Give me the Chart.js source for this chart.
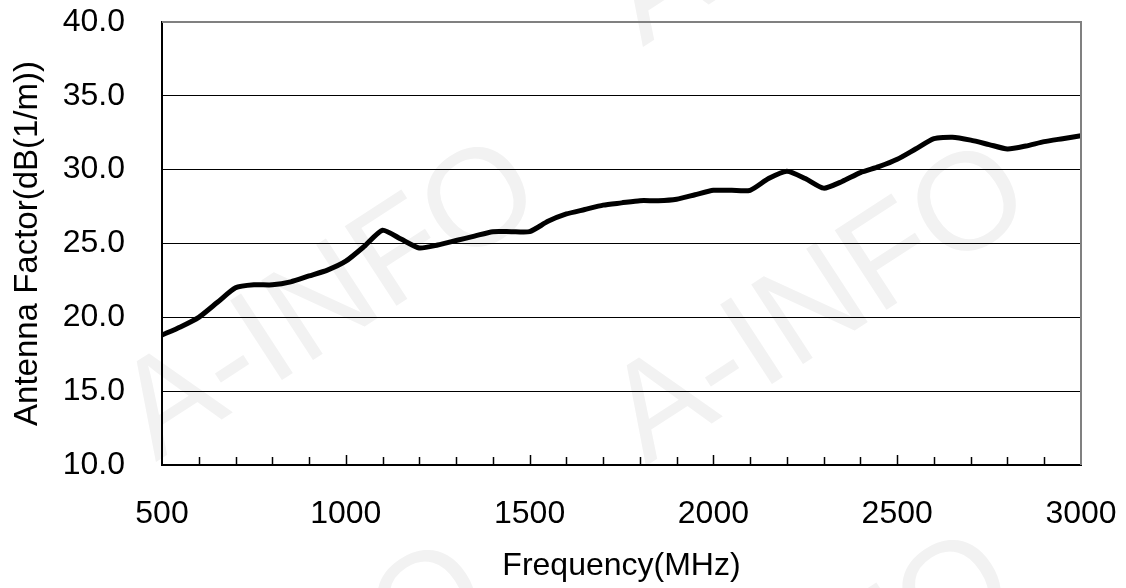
<!DOCTYPE html>
<html>
<head>
<meta charset="utf-8">
<script src="https://cdn.jsdelivr.net/npm/chart.js@4.4.1/dist/chart.umd.min.js"></script>
<style>
  html, body { margin: 0; padding: 0; background: #ffffff; }
  #wrap { width: 1126px; height: 588px; }
</style>
</head>
<body>
<div id="wrap"><canvas id="afChart"></canvas></div>
<script>
// frequency points (MHz) and antenna factor
const freqMHz = [500, 550, 600, 650, 700, 750, 800, 850, 900, 950,
  1000, 1050, 1100, 1150, 1200, 1250, 1300, 1350, 1400, 1450,
  1500, 1550, 1600, 1650, 1700, 1750, 1800, 1850, 1900, 1950,
  2000, 2050, 2100, 2150, 2200, 2250, 2300, 2350, 2400, 2450,
  2500, 2550, 2600, 2650, 2700, 2750, 2800, 2850, 2900, 2950, 3000]
const antennaFactor = [18.8, 19.35, 20.0, 21.0, 22.0, 22.2, 22.2, 22.4, 22.8, 23.2,
  23.8, 24.8, 25.9, 25.3, 24.7, 24.9, 25.2, 25.5, 25.8, 25.8,
  25.8, 26.5, 27.0, 27.3, 27.6, 27.75, 27.9, 27.9, 28.0, 28.3,
  28.6, 28.6, 28.6, 29.4, 29.9, 29.4, 28.75, 29.2, 29.8, 30.2,
  30.7, 31.4, 32.1, 32.2, 32.0, 31.7, 31.4, 31.6, 31.9, 32.1, 32.3]

const xRange = [500, 3000]
const yRange = [10, 40]
const xMajorStep = 500
const xMinorStep = 100
const yStep = 5

const font = '"Liberation Sans", Arial, sans-serif'

const points = freqMHz.map((f, i) => ({ x: f, y: antennaFactor[i] }))

// drop the label overflow padding so the plot box sits where we want it
const noPad = s => {
  s.paddingTop = 0
  s.paddingBottom = 0
  s.paddingLeft = 0
  s.paddingRight = 0
}

// faint tiled watermark behind the chart
const watermark = {
  id: 'watermark',
  beforeDraw(chart) {
    const c = chart.ctx
    c.save()
    c.fillStyle = '#ffffff'
    c.fillRect(0, 0, chart.width, chart.height)
    c.fillStyle = '#f2f2f2'
    c.font = '138px ' + font
    c.textAlign = 'center'
    c.textBaseline = 'middle'
    const spots = [[331, 303], [821, 307], [818, -112], [281, 706], [806, 696]]
    spots.forEach(p => {
      c.save()
      c.translate(p[0], p[1])
      c.rotate(-33 * Math.PI / 180)
      c.fillText('A-INFO', 0, 0)
      c.restore()
    })
    c.restore()
  }
}

// frame on top/right and small inward tick marks on the x axis
const frame = {
  id: 'frame',
  afterDatasetsDraw(chart) {
    const c = chart.ctx
    const a = chart.chartArea
    const xs = chart.scales.x
    c.save()
    c.strokeStyle = '#808080'
    c.lineWidth = 2
    c.beginPath()
    c.moveTo(a.left, a.top)
    c.lineTo(a.right, a.top)
    c.lineTo(a.right, a.bottom)
    c.stroke()
    c.strokeStyle = '#000000'
    c.lineWidth = 1.5
    for (let v = xRange[0] + xMinorStep; v < xRange[1]; v += xMinorStep) {
      const px = Math.round(xs.getPixelForValue(v)) + 0.5
      const len = v % xMajorStep === 0 ? 10 : 8
      c.beginPath()
      c.moveTo(px, a.bottom)
      c.lineTo(px, a.bottom - len)
      c.stroke()
    }
    c.restore()
  }
}

const ctx = document.getElementById('afChart').getContext('2d')

const afChart = new Chart(ctx, {
  type: 'line',
  data: {
    datasets: [{
      label: 'Antenna Factor',
      data: points,
      borderColor: '#000000',
      borderWidth: 5,
      borderJoinStyle: 'round',
      borderCapStyle: 'round',
      pointRadius: 0,
      tension: 0.2,
      fill: false
    }]
  },
  options: {
    responsive: true,
    maintainAspectRatio: false,
    animation: false,
    layout: { padding: { left: 0, top: 22, right: 45, bottom: 0 } },
    plugins: {
      legend: { display: false },
      tooltip: { enabled: false }
    },
    scales: {
      x: {
        type: 'linear',
        min: xRange[0],
        max: xRange[1],
        afterFit: s => { s.height = 123; noPad(s) },
        ticks: {
          stepSize: xMajorStep,
          color: '#000000',
          padding: 30,
          font: { family: font, size: 32 },
          maxRotation: 0,
          autoSkip: false,
          callback: v => String(v)
        },
        grid: { display: false, drawTicks: false },
        border: { color: '#000000', width: 2 },
        title: {
          display: true,
          text: 'Frequency(MHz)',
          color: '#000000',
          font: { family: font, size: 32 },
          padding: { top: 0, bottom: 3 }
        }
      },
      y: {
        min: yRange[0],
        max: yRange[1],
        afterFit: s => { s.width = 162; noPad(s) },
        ticks: {
          stepSize: yStep,
          color: '#000000',
          padding: 37,
          font: { family: font, size: 32 },
          callback: v => v.toFixed(1)
        },
        grid: { color: '#000000', lineWidth: 1, drawTicks: false },
        border: { color: '#000000', width: 2 },
        title: {
          display: true,
          text: 'Antenna Factor(dB(1/m))',
          color: '#000000',
          font: { family: font, size: 33 },
          padding: { top: 8, bottom: 0 }
        }
      }
    }
  },
  plugins: [watermark, frame]
})
</script>
</body>
</html>
